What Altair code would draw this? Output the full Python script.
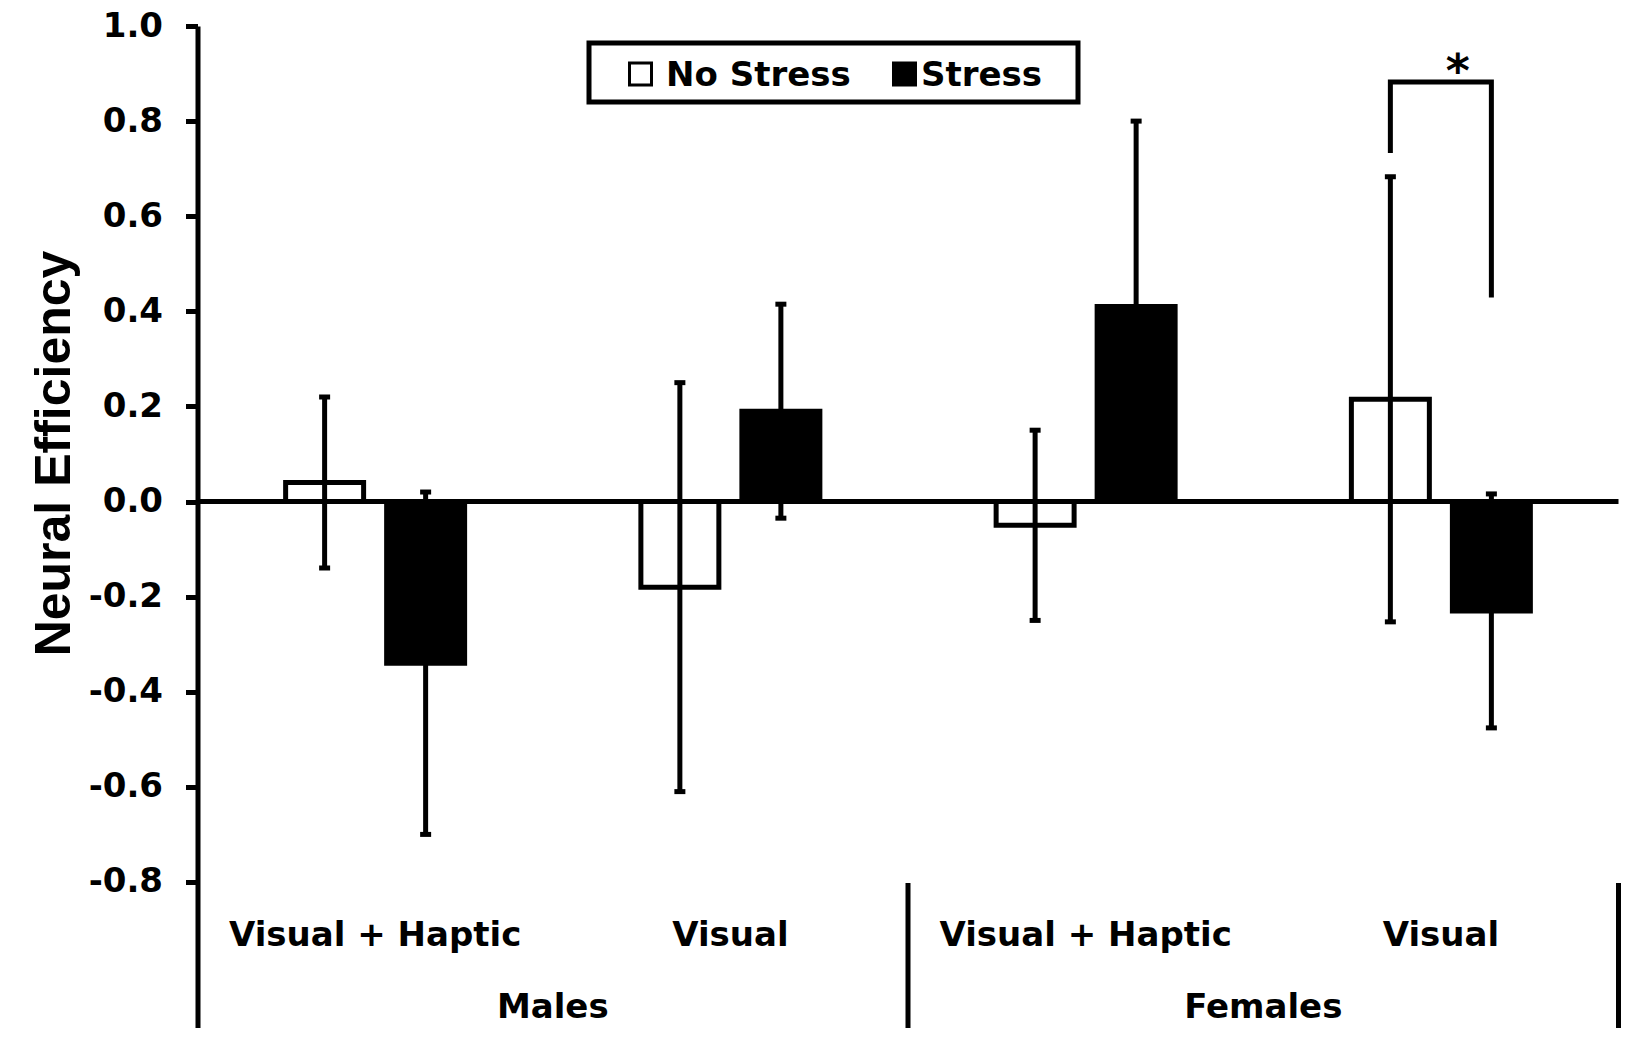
import altair as alt
import pandas as pd

# ---------------- data ----------------
groups = ["Males", "Females"]
modalities = ["Visual + Haptic", "Visual"]
conditions = ["No Stress", "Stress"]

mean_no_stress = [0.04, -0.18, -0.05, 0.215]
mean_stress = [-0.34, 0.19, 0.41, -0.23]
err_no_stress = [0.18, 0.43, 0.20, 0.468]
err_stress = [0.36, 0.225, 0.39, 0.246]

y_ticks = [-0.8, -0.6, -0.4, -0.2, 0.0, 0.2, 0.4, 0.6, 0.8, 1.0]

# significance bracket (Females, Visual): left end, top, top, right end
bracket_y = [0.733, 0.882, 0.882, 0.429]
star_y = [0.872]

# ---------------- tables ----------------
cats = [f"{g}|{m}" for g in groups for m in modalities]
rows = []
for i, c in enumerate(cats):
    g, m = c.split("|")
    for cond, means, errs in [("No Stress", mean_no_stress, err_no_stress),
                              ("Stress", mean_stress, err_stress)]:
        rows.append({"cat": c, "group": g, "modality": m, "cond": cond,
                     "mean": means[i], "lo": means[i] - errs[i], "hi": means[i] + errs[i]})
df = pd.DataFrame(rows)

cat_df = pd.DataFrame({"cat": cats, "modality": [c.split("|")[1] for c in cats]})
grp_df = pd.DataFrame({"cat": [f"{g}|{modalities[1]}" for g in groups], "group": groups})
br_df = pd.DataFrame({"cat": [cats[3]] * 4,
                      "cond": [conditions[0], conditions[0], conditions[1], conditions[1]],
                      "y": bracket_y, "ord": [0, 1, 2, 3]})
star_df = pd.DataFrame({"cat": [cats[3]], "y": star_y, "t": ["*"]})
leg_df = pd.DataFrame({"cond": conditions})
one_df = pd.DataFrame({"a": [0]})

FONT = "DejaVu Sans"
W, H = 1421, 1002
LW = 5

x_scale = alt.Scale(domain=cats, paddingInner=0, paddingOuter=0)
y_scale = alt.Scale(domain=[-1.1071, 1.0], nice=False, zero=False)
fill_scale = alt.Scale(domain=conditions, range=["white", "black"])
off_scale = alt.Scale(domain=conditions, paddingInner=0.228, paddingOuter=0.8725)

def X(**kw):
    return alt.X("cat:N", scale=x_scale, axis=None, **kw)

xoff = alt.XOffset("cond:N", scale=off_scale)

y_axis = alt.Axis(
    values=y_ticks,
    labelExpr="datum.value < 0 ? '-' + format(-datum.value, '.1f') : format(datum.value, '.1f')",
    labelFont=FONT, labelFontSize=34, labelFontWeight="bold", labelColor="black",
    labelPadding=23, tickSize=12, tickWidth=LW, tickColor="black",
    domainColor="black", domainWidth=LW, grid=False,
    title="Neural Efficiency", titleFont="Liberation Sans", titleFontSize=50,
    titleFontWeight="bold", titleColor="black", titleX=-143, titleY=427,
    titleAngle=270, titleAlign="center", titleBaseline="middle",
)

bars = alt.Chart(df).mark_bar(stroke="black", strokeWidth=LW).encode(
    x=X(), xOffset=xoff,
    y=alt.Y("mean:Q", scale=y_scale, axis=y_axis),
    fill=alt.Fill("cond:N", scale=fill_scale, legend=None),
)

zero = alt.Chart(one_df).mark_rule(color="black", strokeWidth=LW).encode(
    y=alt.Y(datum=0, scale=y_scale)
)

err = alt.Chart(df).mark_rule(color="black", strokeWidth=LW).encode(
    x=X(), xOffset=xoff,
    y=alt.Y("lo:Q", scale=y_scale), y2="hi:Q",
)
cap_lo = alt.Chart(df).mark_tick(color="black", thickness=LW, size=11, opacity=1).encode(
    x=X(), xOffset=xoff, y=alt.Y("lo:Q", scale=y_scale))
cap_hi = alt.Chart(df).mark_tick(color="black", thickness=LW, size=11, opacity=1).encode(
    x=X(), xOffset=xoff, y=alt.Y("hi:Q", scale=y_scale))

bracket = alt.Chart(br_df).mark_line(color="black", strokeWidth=LW, strokeJoin="miter").encode(
    x=X(), xOffset=xoff, y=alt.Y("y:Q", scale=y_scale), order="ord:O")

star = alt.Chart(star_df).mark_text(font=FONT, fontSize=46, fontWeight="bold", color="black",
                                    baseline="alphabetic", dx=17).encode(
    x=X(), y=alt.Y("y:Q", scale=y_scale), text="t:N")

cat_labels = alt.Chart(cat_df).mark_text(font=FONT, fontSize=34, fontWeight="bold",
                                         color="black", baseline="alphabetic").encode(
    x=X(), y=alt.value(920), text="modality:N")

grp_labels = alt.Chart(grp_df).mark_text(font=FONT, fontSize=34, fontWeight="bold",
                                         color="black", baseline="alphabetic").encode(
    x=X(bandPosition=0), y=alt.value(992), text="group:N")

sep_mid = alt.Chart(pd.DataFrame({"cat": [cats[2]]})).mark_rule(color="black", strokeWidth=LW).encode(
    x=X(bandPosition=0), y=alt.value(857), y2=alt.value(H))
sep_end = alt.Chart(pd.DataFrame({"cat": [cats[3]]})).mark_rule(color="black", strokeWidth=LW).encode(
    x=X(bandPosition=1), y=alt.value(857), y2=alt.value(H))

# legend
leg_box = alt.Chart(one_df).mark_rect(fill="white", stroke="black", strokeWidth=LW).encode(
    x=alt.value(391.5), x2=alt.value(880.5), y=alt.value(17), y2=alt.value(76))
leg_layers = []
for cond, sx, tx in [(conditions[0], 443, 468.5), (conditions[1], 707, 723.5)]:
    sub = leg_df[leg_df["cond"] == cond]
    leg_layers.append(alt.Chart(sub).mark_square(size=484, stroke="black", strokeWidth=3, opacity=1).encode(
        x=alt.value(sx), y=alt.value(48),
        fill=alt.Fill("cond:N", scale=fill_scale, legend=None)))
    leg_layers.append(alt.Chart(sub).mark_text(font=FONT, fontSize=34, fontWeight="bold", color="black",
                                               align="left", baseline="alphabetic").encode(
        x=alt.value(tx), y=alt.value(60), text="cond:N"))

chart = alt.layer(
    bars, err, cap_lo, cap_hi, zero, bracket, star, cat_labels, grp_labels,
    sep_mid, sep_end, leg_box, *leg_layers
).properties(
    width=W, height=H,
    autosize=alt.AutoSizeParams(type="none"),
    padding={"left": 189.5, "top": 18, "right": 10, "bottom": 0},
    background="white",
).configure_view(stroke=None)

chart.save("out.html", embed_options={"renderer": "svg", "actions": False})
